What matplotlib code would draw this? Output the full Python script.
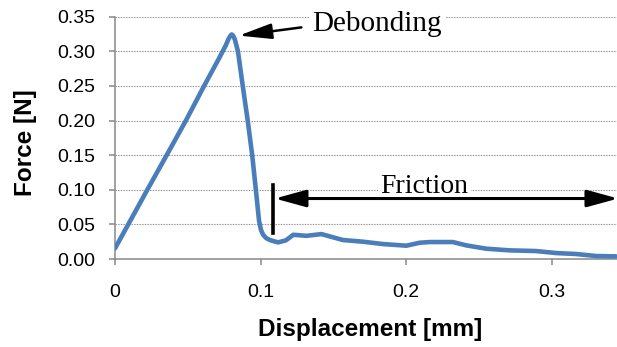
import matplotlib
matplotlib.use("Agg")
import matplotlib.pyplot as plt

# force-displacement curve
displacement = [0.0, 0.0091, 0.0222, 0.0355, 0.0487, 0.0612, 0.0715, 0.0762,
                0.0778, 0.0791, 0.0802, 0.0813, 0.0824, 0.0845, 0.0878, 0.0912,
                0.0943, 0.0968, 0.0990, 0.1003, 0.1018, 0.104, 0.107, 0.112,
                0.1175, 0.1225, 0.1316, 0.1419, 0.1567, 0.1704, 0.1842, 0.2002,
                0.2093, 0.2162, 0.2322, 0.2414, 0.2551, 0.2711, 0.2894, 0.3032,
                0.3169, 0.3306, 0.3443]
force = [0.0154, 0.05, 0.10, 0.15, 0.20, 0.25, 0.29, 0.309,
         0.317, 0.322, 0.3245, 0.3225, 0.317, 0.30, 0.25, 0.20,
         0.15, 0.10, 0.055, 0.042, 0.035, 0.030, 0.027, 0.024,
         0.027, 0.035, 0.0335, 0.036, 0.0274, 0.025, 0.0216, 0.0192,
         0.0235, 0.0245, 0.0245, 0.0197, 0.0149, 0.0125, 0.0115, 0.0086,
         0.0072, 0.0043, 0.0038]

x_ticks = [0, 0.1, 0.2, 0.3]
x_tick_labels = ["0", "0.1", "0.2", "0.3"]
y_ticks = [0.00, 0.05, 0.10, 0.15, 0.20, 0.25, 0.30, 0.35]

fig = plt.figure(figsize=(6.17, 3.47), dpi=100)
ax = fig.add_axes([0.1864, 0.2536, 0.8136, 0.698])

ax.plot(displacement, force, color="#4A7EBB", lw=3.3, solid_capstyle="round",
        solid_joinstyle="round", zorder=3)

ax.set_xlim(0, 0.345)
ax.set_ylim(0, 0.35)
ax.set_xticks(x_ticks)
ax.set_xticklabels(x_tick_labels)
ax.set_yticks(y_ticks)
ax.set_yticklabels([f"{v:.2f}" for v in y_ticks])
ax.grid(axis="y", color="#8c8c8c", linestyle=(0, (1.2, 1.2)), lw=0.8)
ax.set_axisbelow(True)

for s in ["top", "right"]:
    ax.spines[s].set_visible(False)
for s in ["left", "bottom"]:
    ax.spines[s].set_color("#888888")
    ax.spines[s].set_linewidth(1.1)

ax.tick_params(axis="x", colors="#888888", length=4, width=1.1, pad=14,
               labelcolor="black", labelsize=14)
ax.tick_params(axis="y", colors="#888888", length=4, width=1.1, pad=10,
               labelcolor="black", labelsize=14)
for lab in ax.get_xticklabels() + ax.get_yticklabels():
    lab.set_family("Liberation Sans")

ax.set_xlabel("Displacement [mm]", fontsize=17.5, fontweight="bold",
              family="Liberation Sans")
ax.set_ylabel("Force [N]", fontsize=17.5, fontweight="bold",
              family="Liberation Sans")
ax.xaxis.set_label_coords(0.508, -0.293)
ax.xaxis.label.set_va("center")
ax.yaxis.set_label_coords(-0.179, 0.48)
ax.yaxis.label.set_va("center")

# Debonding label and arrow
ax.annotate("", xy=(0.0851, 0.3228), xytext=(0.1281, 0.3347),
            arrowprops=dict(arrowstyle="-|>,head_length=2.0,head_width=0.47",
                            color="black", lw=1.8, shrinkA=0, shrinkB=0),
            zorder=5)
ax.text(0.1355, 0.330, "Debonding", family="Liberation Serif", fontsize=21,
        ha="left", va="baseline",
        bbox=dict(facecolor="white", edgecolor="none", pad=2), zorder=4)

# Friction region
ax.plot([0.1087, 0.1087], [0.038, 0.1066], color="black", lw=2.6, zorder=5)
ax.annotate("", xy=(0.1098, 0.0874), xytext=(0.3458, 0.0874),
            arrowprops=dict(arrowstyle="<|-|>,head_length=1.9,head_width=0.52",
                            color="black", lw=2.2, shrinkA=0, shrinkB=0),
            annotation_clip=False, zorder=5)
ax.text(0.2128, 0.0947, "Friction", family="Liberation Serif", fontsize=20,
        ha="center", va="baseline",
        bbox=dict(facecolor="white", edgecolor="none", pad=2), zorder=4)

fig.savefig("out.png", dpi=100)
